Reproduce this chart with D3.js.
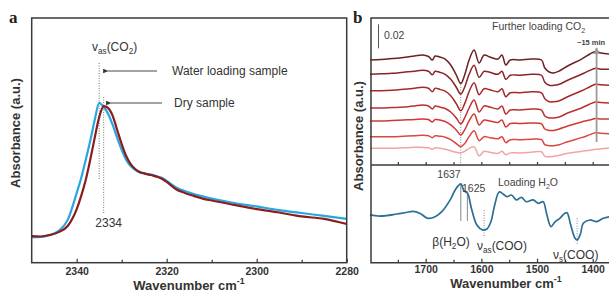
<!DOCTYPE html>
<html lang="en">
<head>
  <meta charset="UTF-8">
  <title>CO2 / H2O FTIR spectra</title>
  <style>
  body {
    margin: 0;
    background: #fff;
  }
  svg {
    display: block;
    font-family: Arial, "Liberation Sans", sans-serif;
  }
  .frame {
    fill: none;
    stroke: #3a3a3a;
    stroke-width: 1.5;
  }
  .axis path {
    display: none;
  }
  .axis line {
    stroke: #3a3a3a;
    stroke-width: 1.2;
  }
  .axis text {
    font-family: Arial, "Liberation Sans", sans-serif;
    font-size: 10.5px;
    font-weight: bold;
    fill: #333;
  }
  .title {
    font-size: 13px;
    font-weight: bold;
    fill: #333;
  }
  .note {
    font-size: 12px;
    fill: #333;
  }
  .small {
    font-size: 10.5px;
    fill: #444;
  }
  .panel {
    font-family: "Liberation Serif", "DejaVu Serif", serif;
    font-size: 17px;
    font-weight: bold;
    fill: #222;
  }
  </style>
</head>
<body>
  <script src="https://cdn.jsdelivr.net/npm/d3@7"></script>
  <script>

  // ---- panel a: nu_as(CO2) band ----
  var wnA = [2350, 2348, 2346, 2344, 2342, 2340, 2339, 2338, 2337, 2336, 2335, 2334, 2333, 2332, 2331,
             2330, 2329, 2328, 2327, 2326, 2325, 2324, 2323, 2322, 2321, 2320, 2318, 2316, 2314, 2312,
             2310, 2305, 2300, 2295, 2290, 2285, 2280];
  var waterLoading = [0.104, 0.105, 0.113, 0.130, 0.175, 0.285, 0.346, 0.420, 0.497, 0.583, 0.653, 0.636, 0.608, 0.563, 0.510,
                      0.461, 0.420, 0.395, 0.379, 0.369, 0.365, 0.362, 0.358, 0.352, 0.346, 0.334, 0.309, 0.293, 0.281, 0.271,
                      0.262, 0.244, 0.230, 0.215, 0.203, 0.191, 0.179];
  var drySample = [0.109, 0.107, 0.113, 0.125, 0.150, 0.219, 0.273, 0.338, 0.420, 0.510, 0.595, 0.640, 0.632, 0.600, 0.542,
                   0.485, 0.436, 0.403, 0.383, 0.371, 0.365, 0.360, 0.356, 0.350, 0.342, 0.330, 0.301, 0.285, 0.273, 0.262,
                   0.254, 0.236, 0.219, 0.205, 0.189, 0.179, 0.158];
  var ticksA = [2340, 2320, 2300, 2280];
  var minorA = [2330, 2310, 2290];

  // ---- panel b top: further loading CO2 (mAbs, stacked) ----
  var wnB = [1800, 1780, 1760, 1740, 1720, 1706, 1695, 1688, 1683, 1675, 1665, 1655, 1645, 1637, 1630,
             1622, 1613, 1604, 1595, 1585, 1570, 1563, 1556, 1548, 1530, 1510, 1492, 1486, 1478, 1470,
             1460, 1445, 1420, 1405, 1395, 1385, 1370];
  var scan1 = [0, 0.4, 1.2, 2.1, 3.3, 4.2, 2.9, 0, 3.3, 2.5, 0.8, -4.2, -12.5, -19.6, -12.5,
               0, 8.3, -2.5, 4.2, 2.5, 0.8, 4.2, -4.2, 0, 0, 0.8, 0, -6.7, -10, -10.8,
               -9.2, -5, 0.8, 5, 7.1, 5.8, 5];
  var scan2 = [0, 0.4, 0.8, 1.7, 2.5, 3.3, 2.5, -0.4, 2.5, 1.7, 0, -4.2, -10.8, -16.7, -10.8,
               0, 7.5, -2.5, 2.5, 1.7, 0, 2.5, -4.2, -0.8, -0.8, 0, -0.8, -6.7, -9.2, -9.2,
               -8.3, -5, 0, 3.3, 5, 4.2, 4.2];
  var scan3 = [0, 0, 0.4, 1.2, 2.1, 2.9, 2.1, -0.8, 2.1, 1.2, -0.4, -4.2, -10.8, -16.7, -10.8,
               -0.8, 6.7, -3.3, 1.7, 0.8, -0.8, 1.7, -5, -1.7, -1.7, -0.8, -1.7, -6.7, -9.2, -9.2,
               -8.3, -5, 0, 3.3, 5.4, 5, 4.6];
  var scan4 = [0, 0, 0.4, 0.8, 1.7, 2.5, 1.7, -0.8, 1.7, 0.8, -0.4, -3.3, -8.3, -13.3, -8.3,
               0, 6.7, -3.3, 1.7, 0.8, -0.8, 1.7, -5, -1.7, -1.7, -0.8, -1.7, -6.7, -8.3, -8.3,
               -7.5, -4.2, 0, 3.3, 5, 4.6, 4.2];
  var scan5 = [0, 0, 0.4, 0.8, 1.2, 1.7, 1.2, -0.8, 1.2, 0.8, -0.4, -3.3, -7.5, -11.7, -7.5,
               0, 5.8, -3.3, 0.8, 0, -1.2, 0.8, -5, -2.1, -2.1, -1.7, -2.5, -6.7, -7.9, -7.9,
               -6.7, -4.2, -0.8, 0.8, 2.1, 1.7, 1.7];
  var scan6 = [0, 0, 0, 0.4, 0.8, 1.2, 0.8, -0.8, 0.8, 0.4, -0.4, -2.5, -5.8, -8.3, -5.8,
               0, 5, -3.3, 0, -0.8, -1.7, 0, -5, -2.5, -2.5, -2.1, -2.5, -6.7, -7.5, -7.5,
               -6.7, -4.2, -0.8, 1.7, 3.3, 2.9, 2.5];
  var scan7 = [0, 0, 0, 0.4, 0.8, 0.8, 0.4, -0.8, 0.4, 0, -0.8, -2.1, -3.3, -3.8, -2.5,
               0, 1.2, -6.3, -2.5, -3.3, -4.2, -2.5, -5.4, -3.8, -3.8, -3.3, -2.9, -6.7, -7.1, -6.7,
               -5.8, -4.2, -2.5, -1.7, -0.8, -0.4, 0];
  var scanOffsets = [87.5, 75.6, 61.9, 47.5, 36.7, 23.6, 13.9];

  // ---- panel b bottom: loading H2O (mAbs) ----
  var wnH = [1800, 1785, 1770, 1752, 1735, 1723, 1710, 1696, 1683, 1671, 1656, 1647, 1637, 1631, 1625,
             1618, 1608, 1598, 1590, 1583, 1576, 1568, 1561, 1554, 1546, 1537, 1528, 1519, 1507, 1498,
             1489, 1483, 1475, 1468, 1459, 1450, 1446, 1440, 1432, 1428, 1422, 1417, 1405, 1393, 1381, 1370];
  var loadingH2O = [39.8, 38.9, 39.3, 40.6, 41.8, 42.7, 41, 37, 38.3, 42.5, 52.3, 60.6, 65.6, 59.8, 58.1,
                    45.6, 31.4, 27.3, 28.1, 33.9, 48.1, 58.9, 57.3, 55, 56.4, 52.3, 54.5, 50.8, 52.3, 49.5,
                    50.8, 41.2, 30, 33.9, 37, 41.2, 41.7, 32.3, 20.6, 18.9, 23.9, 32.8, 35.6, 34.2, 37, 38.3];
  var ticksB = [1700, 1600, 1500, 1400];
  var minorB = [1750, 1650, 1550, 1450];
  var minorTop = [1750, 1700, 1650, 1600, 1550, 1500, 1450, 1400];

  var scanColors = ['#6c2022', '#8a2427', '#a6292a', '#bd2f2e', '#d13833', '#de4640', '#f2a4a2'];

  var width = 609, height = 292;
  var svg = d3.select('body').append('svg')
              .attr('width', width)
              .attr('height', height);

  function rich(g, x, y, parts, cls, anchor) {
    var t = g.append('text')
             .attr('class', cls)
             .attr('x', x)
             .attr('y', y)
             .attr('text-anchor', anchor || 'start');
    var shift = 0;
    parts.forEach(function (p) {
      var target = p[1] === 'sub' ? 3 : p[1] === 'sup' ? -6 : 0;
      t.append('tspan')
       .attr('dy', target - shift)
       .style('font-size', p[1] ? '0.68em' : null)
       .text(p[0]);
      shift = target;
    });
    return t;
  }

  svg.append('defs').append('marker')
     .attr('id', 'head')
     .attr('viewBox', '0 0 10 10')
     .attr('refX', 1).attr('refY', 5)
     .attr('markerWidth', 6).attr('markerHeight', 6)
     .attr('orient', 'auto-start-reverse')
     .append('path')
     .attr('d', 'M10,1 L0,5 L10,9 Z')
     .attr('fill', '#333');

  svg.append('defs').append('marker')
     .attr('id', 'headGrey')
     .attr('viewBox', '0 0 10 10')
     .attr('refX', 9).attr('refY', 5)
     .attr('markerWidth', 4).attr('markerHeight', 4)
     .attr('orient', 'auto')
     .append('path')
     .attr('d', 'M0,0 L10,5 L0,10 Z')
     .attr('fill', '#999');

  // =========== panel a ===========
  var xA = d3.scaleLinear().domain([2350, 2280]).range([31.7, 346.7]);
  var yA = d3.scaleLinear().domain([0, 1]).range([262.7, 18]);
  var ga = svg.append('g');

  var lineA = d3.line()
                .x(function (d) { return xA(d[0]); })
                .y(function (d) { return yA(d[1]); })
                .curve(d3.curveMonotoneX);

  // dotted guides
  ga.append('line')
    .attr('x1', xA(2335)).attr('x2', xA(2335))
    .attr('y1', 63).attr('y2', 180)
    .attr('stroke', '#777').attr('stroke-width', 1).attr('stroke-dasharray', '1,1.5');
  ga.append('line')
    .attr('x1', xA(2334)).attr('x2', xA(2334))
    .attr('y1', 97).attr('y2', 214)
    .attr('stroke', '#777').attr('stroke-width', 1).attr('stroke-dasharray', '1,1.5');

  ga.append('path')
    .attr('d', lineA(d3.zip(wnA, waterLoading)))
    .attr('fill', 'none').attr('stroke', '#27a6e2').attr('stroke-width', 2.2);
  ga.append('path')
    .attr('d', lineA(d3.zip(wnA, drySample)))
    .attr('fill', 'none').attr('stroke', '#8a1c1c').attr('stroke-width', 2.2);

  ga.append('rect').attr('class', 'frame')
    .attr('x', 31.7).attr('y', 18)
    .attr('width', 346.7 - 31.7).attr('height', 262.7 - 18);

  ga.append('g').attr('class', 'axis')
    .attr('transform', 'translate(0,262.7)')
    .call(d3.axisBottom(xA).tickValues(ticksA).tickSize(-4).tickPadding(5).tickFormat(d3.format('d')));
  ga.append('g').attr('class', 'axis')
    .attr('transform', 'translate(0,262.7)')
    .call(d3.axisBottom(xA).tickValues(minorA).tickSize(-3).tickFormat(''));

  // annotations
  rich(ga, 92, 51, [['v'], ['as', 'sub'], ['(CO'], ['2', 'sub'], [')']], 'note');
  ga.append('line')
    .attr('x1', 157).attr('x2', 108).attr('y1', 71).attr('y2', 71)
    .attr('stroke', '#333').attr('stroke-width', 0.9)
    .attr('marker-end', 'url(#head)');
  ga.append('text').attr('class', 'note').attr('x', 172).attr('y', 75).text('Water loading sample');
  ga.append('line')
    .attr('x1', 162).attr('x2', 111).attr('y1', 103).attr('y2', 103)
    .attr('stroke', '#333').attr('stroke-width', 0.9)
    .attr('marker-end', 'url(#head)');
  ga.append('text').attr('class', 'note').attr('x', 174).attr('y', 107).text('Dry sample');
  ga.append('text').attr('class', 'note').attr('x', xA(2334) + 5).attr('y', 227)
    .attr('text-anchor', 'middle').text('2334');

  ga.append('text').attr('class', 'title')
    .attr('transform', 'translate(20,133) rotate(-90)')
    .attr('text-anchor', 'middle').style('font-size', '13px')
    .text('Absorbance (a.u.)');
  rich(ga, 189, 289.5, [['Wavenumber cm'], ['-1', 'sup']], 'title', 'middle');
  ga.append('text').attr('class', 'panel').attr('x', 9).attr('y', 23).text('a');

  // =========== panel b ===========
  var xB = d3.scaleLinear().domain([1800, 1370]).range([370, 609.4]);
  var yTop = d3.scaleLinear().domain([0, 122.5]).range([165, 18]);
  var yBot = d3.scaleLinear().domain([0, 81.4]).range([262.7, 165]);
  var gb = svg.append('g');

  var scans = [scan1, scan2, scan3, scan4, scan5, scan6, scan7];

  var lineTop = d3.line()
                  .x(function (d) { return xB(d[0]); })
                  .y(function (d) { return yTop(d[1]); })
                  .curve(d3.curveCatmullRom.alpha(0.5));

  // dotted guide at 1637
  gb.append('line')
    .attr('x1', xB(1637)).attr('x2', xB(1637))
    .attr('y1', 82).attr('y2', 165)
    .attr('stroke', '#888').attr('stroke-width', 1).attr('stroke-dasharray', '1,1.5');

  gb.selectAll('.scan')
    .data(scans)
    .enter()
    .append('path')
    .attr('class', 'scan')
    .attr('fill', 'none')
    .attr('stroke', function (d, i) { return scanColors[i]; })
    .attr('stroke-width', 1.5)
    .attr('d', function (d, i) {
      return lineTop(wnB.map(function (w, k) { return [w, d[k] + scanOffsets[i]]; }));
    });

  // ~15 min arrow
  gb.append('line')
    .attr('x1', xB(1393)).attr('x2', xB(1393))
    .attr('y1', 142).attr('y2', 48)
    .attr('stroke', '#9a9a9a').attr('stroke-width', 1.8)
    .attr('marker-end', 'url(#headGrey)');
  gb.append('text').attr('x', 577).attr('y', 45)
    .style('font-size', '7.5px').style('font-weight', 'bold').attr('fill', '#444')
    .text('~15 min');

  // scale bar
  gb.append('line')
    .attr('x1', 378.5).attr('x2', 378.5)
    .attr('y1', yTop(122.5 - 5.3)).attr('y2', yTop(122.5 - 5.3 - 20))
    .attr('stroke', '#555').attr('stroke-width', 1);
  gb.append('text').attr('class', 'small').attr('x', 384).attr('y', 39).text('0.02');
  rich(gb, 492, 30, [['Further loading CO'], ['2', 'sub']], 'small');

  // loading H2O trace
  var lineBot = d3.line()
                  .x(function (d) { return xB(d[0]); })
                  .y(function (d) { return yBot(d[1]); })
                  .curve(d3.curveCatmullRom.alpha(0.5));

  var h2oAt = function (w) { return loadingH2O[wnH.indexOf(w)]; };

  gb.append('line')
    .attr('x1', xB(1637)).attr('x2', xB(1637))
    .attr('y1', yBot(h2oAt(1637))).attr('y2', 221)
    .attr('stroke', '#999').attr('stroke-width', 1.2);
  gb.append('line')
    .attr('x1', xB(1625)).attr('x2', xB(1625))
    .attr('y1', yBot(h2oAt(1625))).attr('y2', 221)
    .attr('stroke', '#999').attr('stroke-width', 1.2);
  gb.append('line')
    .attr('x1', xB(1595)).attr('x2', xB(1595))
    .attr('y1', 210).attr('y2', 236)
    .attr('stroke', '#888').attr('stroke-width', 1).attr('stroke-dasharray', '1,1.5');
  gb.append('line')
    .attr('x1', xB(1428)).attr('x2', xB(1428))
    .attr('y1', 218).attr('y2', 244)
    .attr('stroke', '#888').attr('stroke-width', 1).attr('stroke-dasharray', '1,1.5');

  gb.append('path')
    .attr('d', lineBot(d3.zip(wnH, loadingH2O)))
    .attr('fill', 'none').attr('stroke', '#2b6e96').attr('stroke-width', 1.7);

  gb.append('text').attr('class', 'small').attr('x', 449).attr('y', 178)
    .attr('text-anchor', 'middle').text('1637');
  gb.append('text').attr('class', 'small').attr('x', 462).attr('y', 192)
    .text('1625');
  rich(gb, 498, 186, [['Loading H'], ['2', 'sub'], ['O']], 'small');
  rich(gb, 451, 246, [['\u03b2(H'], ['2', 'sub'], ['O)']], 'note', 'middle');
  rich(gb, 477, 250, [['\u03bd'], ['as', 'sub'], ['(COO)']], 'note');
  rich(gb, 553, 259, [['\u03bd'], ['s', 'sub'], ['(COO)']], 'note');

  // frame
  gb.append('path').attr('class', 'frame')
    .attr('d', 'M614,18 H371 V262.7 H614 M371,165 H614');

  gb.append('g').attr('class', 'axis')
    .attr('transform', 'translate(0,165)')
    .call(d3.axisBottom(xB).tickValues(minorTop).tickSize(-3).tickFormat(''));
  gb.append('g').attr('class', 'axis')
    .attr('transform', 'translate(0,262.7)')
    .call(d3.axisBottom(xB).tickValues(ticksB).tickSize(-4).tickPadding(3).tickFormat(d3.format('d')));
  gb.append('g').attr('class', 'axis')
    .attr('transform', 'translate(0,262.7)')
    .call(d3.axisBottom(xB).tickValues(minorB).tickSize(-3).tickFormat(''));

  gb.append('text').attr('class', 'title')
    .attr('transform', 'translate(363,136) rotate(-90)')
    .attr('text-anchor', 'middle').style('font-size', '13px')
    .text('Absorbance (a.u.)');
  rich(gb, 506, 288, [['Wavenumber cm'], ['-1', 'sup']], 'title', 'middle');
  gb.append('text').attr('class', 'panel').attr('x', 353).attr('y', 23).text('b');
  </script>
</body>
</html>
